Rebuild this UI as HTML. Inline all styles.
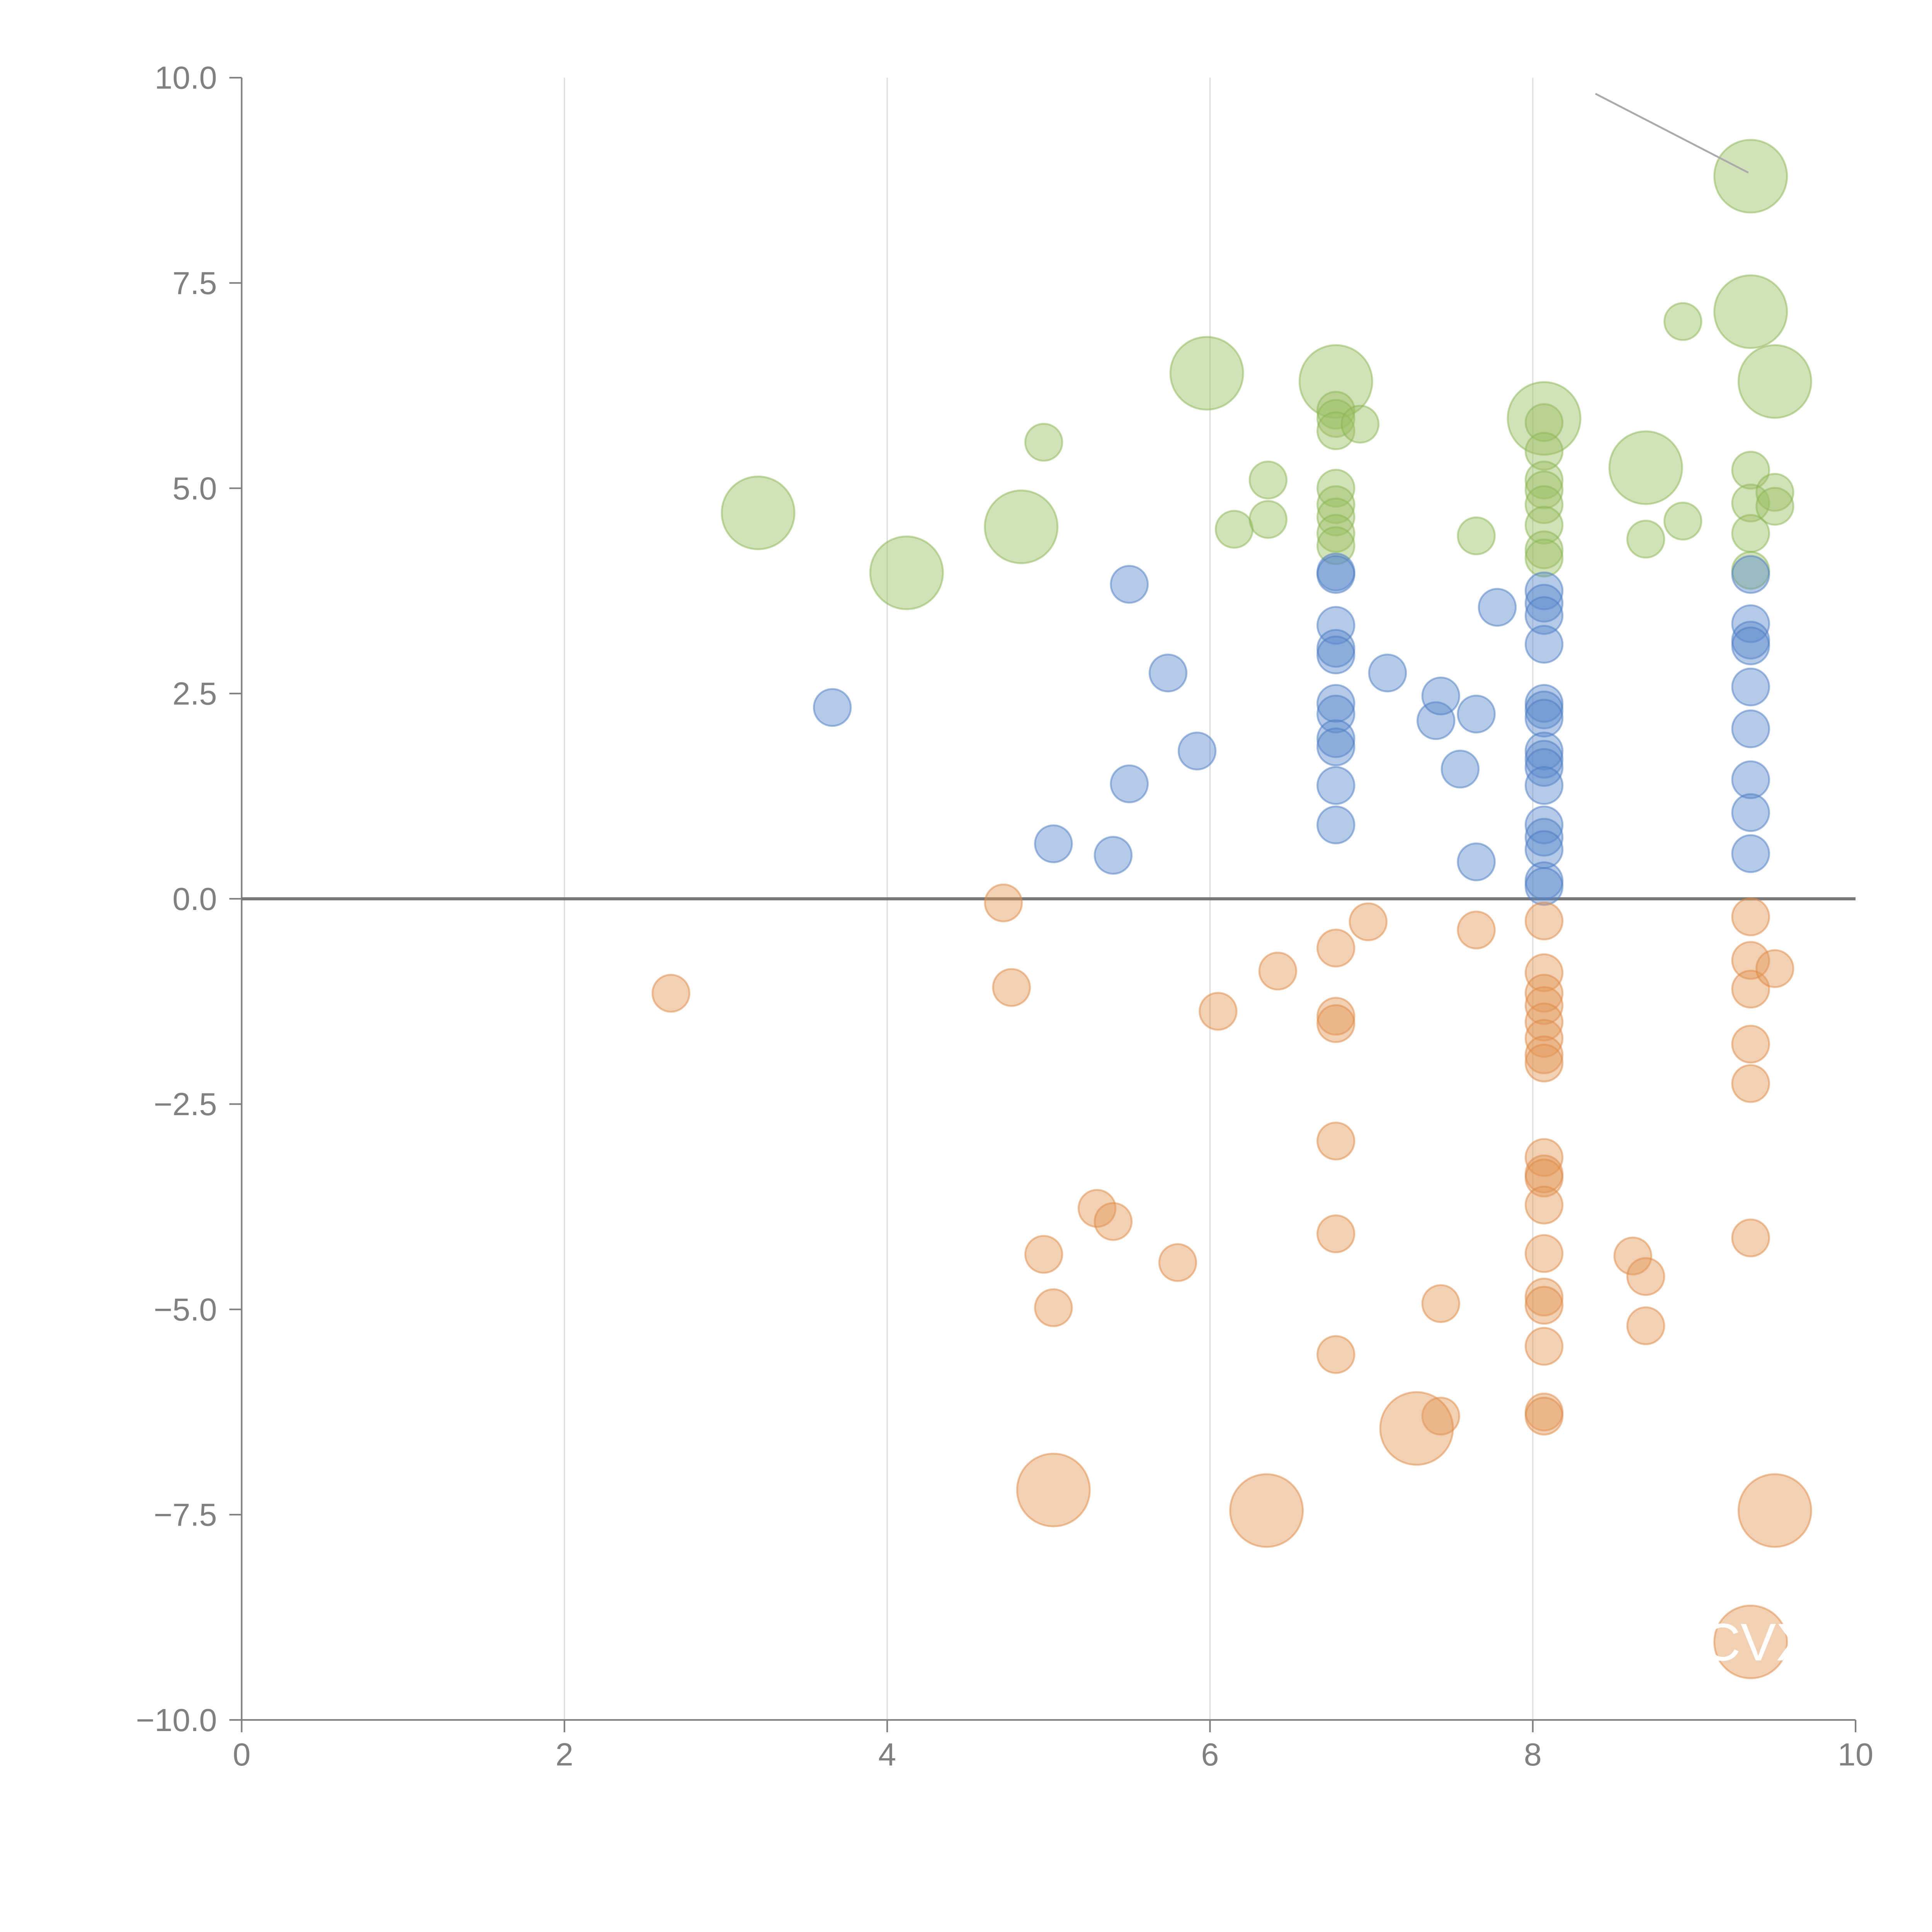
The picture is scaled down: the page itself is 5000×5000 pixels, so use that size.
<!DOCTYPE html>
<html><head><meta charset="utf-8"><style>
html,body{margin:0;padding:0;background:#fff;width:5000px;height:5000px;overflow:hidden}
svg{display:block}
text{font-family:"Liberation Sans",sans-serif}
</style></head><body>
<svg id="chart" width="5000" height="5000" viewBox="0 0 1567 1567" xmlns="http://www.w3.org/2000/svg">
<g id="grid"></g>
<g id="axes"></g>
<g id="marks"></g>
<g id="labels"></g>
</svg>
<script>
const xTicks = [0,2,4,6,8,10];
const yTicks = [10,7.5,5,2.5,0,-2.5,-5,-7.5,-10];
const yTickLabels = ["10.0","7.5","5.0","2.5","0.0","\u22122.5","\u22125.0","\u22127.5","\u221210.0"];
const greenX = [3.2,4.12,4.83,5.98,6.78,8.07,8.7,9.35,9.35,9.5,4.97,6.15,6.36,6.36,6.78,6.78,6.78,6.93,6.78,6.78,6.78,6.78,6.78,7.65,8.07,8.07,8.07,8.07,8.07,8.07,8.07,8.07,8.7,8.93,8.93,9.35,9.35,9.35,9.35,9.5,9.5];
const greenY = [4.7,3.97,4.53,6.4,6.3,5.85,5.25,8.8,7.15,6.3,5.56,4.5,5.1,4.62,5.95,5.85,5.7,5.78,5.0,4.8,4.65,4.45,4.3,4.42,5.8,5.45,5.1,4.98,4.8,4.55,4.25,4.15,4.38,7.03,4.6,5.22,4.82,4.45,4.0,4.95,4.78];
const greenBig = [1,1,1,1,1,1,1,1,1,1,0,0,0,0,0,0,0,0,0,0,0,0,0,0,0,0,0,0,0,0,0,0,0,0,0,0,0,0,0,0,0];
const blueX = [3.66,5.03,5.4,5.5,5.5,5.74,5.92,6.78,6.78,6.78,6.78,6.78,6.78,6.78,6.78,6.78,6.78,6.78,7.1,7.4,7.43,7.55,7.65,7.65,7.78,8.07,8.07,8.07,8.07,8.07,8.07,8.07,8.07,8.07,8.07,8.07,8.07,8.07,8.07,8.07,8.07,9.35,9.35,9.35,9.35,9.35,9.35,9.35,9.35,9.35];
const blueY = [2.33,0.67,0.53,1.4,3.83,2.75,1.8,3.98,3.95,3.33,3.05,2.97,2.38,2.25,1.95,1.85,1.38,0.9,2.75,2.17,2.47,1.58,2.25,0.45,3.55,3.75,3.6,3.45,3.1,2.38,2.3,2.2,1.8,1.7,1.6,1.38,0.9,0.75,0.6,0.22,0.15,3.95,3.35,3.15,3.08,2.58,2.07,1.45,1.05,0.55];
const orangeX = [2.66,4.72,4.77,4.97,5.03,5.3,5.4,5.8,6.05,6.42,6.78,6.78,6.78,6.78,6.78,6.78,6.98,7.43,7.43,7.65,8.07,8.07,8.07,8.07,8.07,8.07,8.07,8.07,8.07,8.07,8.07,8.07,8.07,8.07,8.07,8.07,8.07,8.07,8.62,8.7,8.7,9.35,9.35,9.35,9.35,9.35,9.35,9.5,5.03,6.35,7.28,9.5,9.35];
const orangeY = [-1.15,-0.05,-1.08,-4.33,-4.98,-3.77,-3.93,-4.43,-1.37,-0.88,-0.6,-1.43,-1.52,-2.95,-4.08,-5.55,-0.28,-4.93,-6.3,-0.38,-0.27,-0.9,-1.15,-1.3,-1.5,-1.7,-1.9,-2.0,-3.15,-3.35,-3.4,-3.73,-4.32,-4.85,-4.95,-5.45,-6.25,-6.3,-4.35,-4.6,-5.2,-0.22,-0.75,-1.1,-1.77,-2.25,-4.13,-0.85,-7.2,-7.45,-6.45,-7.45,-9.05];
const orangeBig = [0,0,0,0,0,0,0,0,0,0,0,0,0,0,0,0,0,0,0,0,0,0,0,0,0,0,0,0,0,0,0,0,0,0,0,0,0,0,0,0,0,0,0,0,0,0,0,0,1,1,1,1,1];

const NS="http://www.w3.org/2000/svg";
const X0=196,X1=1505,Y0=1395,Y1=63;
const sx=v=>X0+(v-0)/(10-0)*(X1-X0);
const sy=v=>Y0-(v+10)/20*(Y0-Y1);
function mk(tag,attrs,parent){const e=document.createElementNS(NS,tag);for(const k in attrs)e.setAttribute(k,attrs[k]);parent.appendChild(e);return e;}
const grid=document.getElementById('grid'),axes=document.getElementById('axes'),marks=document.getElementById('marks'),labels=document.getElementById('labels');

xTicks.forEach((t,i)=>{
  if(t>0&&t<10){const g=mk('line',{x1:sx(t),x2:sx(t),y1:Y1,y2:Y0,stroke:'#dddddd','stroke-width':1},grid);
  
  }
  const tk=mk('line',{x1:sx(t),x2:sx(t),y1:Y0,y2:Y0+10,stroke:'#808080','stroke-width':1.3},axes);
  
  
  const tx=mk('text',{x:sx(t),y:Y0+37,'text-anchor':'middle','font-size':26,fill:'#808080'},axes);
  tx.textContent=t;
  
  
});
yTicks.forEach((t,i)=>{
  const tk=mk('line',{x1:X0-10,x2:X0,y1:sy(t),y2:sy(t),stroke:'#808080','stroke-width':1.3},axes);
  
  
  const tx=mk('text',{x:X0-20,y:sy(t)+9,'text-anchor':'end','font-size':26,fill:'#808080'},axes);
  tx.textContent=yTickLabels[i];
  
  
});
const ya=mk('line',{x1:X0,x2:X0,y1:Y1,y2:Y0,stroke:'#808080','stroke-width':1.3},axes);


const xa=mk('line',{x1:X0,x2:X1,y1:Y0,y2:Y0,stroke:'#808080','stroke-width':1.3},axes);



function series(xs,ys,big,fill,stroke,name){
  xs.forEach((x,i)=>{
    const b=big?big[i]:0;
    const c=mk('circle',{cx:sx(x),cy:sy(ys[i]),r:b?29.5:15,fill:fill,'fill-opacity':0.45,stroke:stroke,'stroke-opacity':0.5,'stroke-width':1.5},marks);
    
    
  });
}
series(greenX,greenY,greenBig,'#9bbf62','#8ab553','green-bubble');
series(blueX,blueY,null,'#5b89cc','#4c7cc4','blue-bubble');
series(orangeX,orangeY,orangeBig,'#e39656','#e08a45','orange-bubble');

const zl=mk('line',{x1:X0,x2:X1,y1:sy(0),y2:sy(0),stroke:'#777','stroke-width':2.5},axes);



const ld=mk('line',{x1:1294,y1:76,x2:1418,y2:140,stroke:'#aaa','stroke-width':1.5},labels);


const cvx=mk('text',{x:sx(9.35)+5,y:sy(-9.05)+15,'text-anchor':'middle','font-size':43,fill:'#fff'},labels);
cvx.textContent='CVX';


</script>
</body></html>
